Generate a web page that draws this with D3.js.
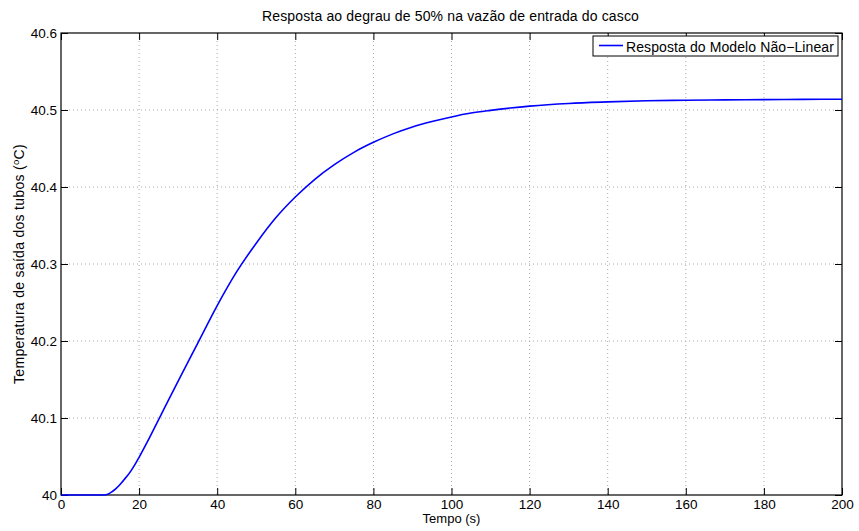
<!DOCTYPE html>
<html>
<head>
<meta charset="utf-8">
<script src="https://cdn.jsdelivr.net/npm/d3@7"></script>
<style>
  body { margin: 0; background: #fff; }
  svg text { font-family: "Liberation Sans", Arial, Helvetica, sans-serif; fill: #000; }
</style>
</head>
<body>
<div id="chart"></div>
<script>
// step response
var tempo = [0, 5, 10, 11, 12, 13, 14, 15, 16, 17, 18, 19, 20, 22, 25, 30, 35, 40, 45, 50, 55, 60, 65, 70,
  75, 80, 85, 90, 95, 100, 105, 110, 115, 120, 130, 140, 150, 160, 170, 180, 190, 200];
var temperatura = [40, 40, 40, 40, 40.001, 40.004, 40.008, 40.013, 40.019, 40.025, 40.032, 40.040, 40.049,
  40.068, 40.098, 40.148, 40.197, 40.246, 40.290, 40.327, 40.360, 40.387, 40.410, 40.429, 40.445, 40.458,
  40.469, 40.478, 40.485, 40.491, 40.496, 40.4995, 40.5025, 40.505, 40.5085, 40.5105, 40.512, 40.5127,
  40.5132, 40.5135, 40.5138, 40.514];
var xTicks = [0, 20, 40, 60, 80, 100, 120, 140, 160, 180, 200];
var yTicks = [40, 40.1, 40.2, 40.3, 40.4, 40.5, 40.6];

var W = 859, H = 531;
var margin = {left: 61, top: 33, right: 17, bottom: 36};
var w = W - margin.left - margin.right, h = H - margin.top - margin.bottom;

var svg = d3.select("#chart").append("svg").attr("width", W).attr("height", H);
var g = svg.append("g").attr("transform", "translate(" + margin.left + "," + margin.top + ")");

var x = d3.scaleLinear().domain([0, 200]).range([0, w]);
var y = d3.scaleLinear().domain([40, 40.6]).range([h, 0]);

// dotted grid
g.append("g").selectAll("line").data(xTicks.slice(1, -1)).enter().append("line")
  .attr("x1", function(d) { return x(d); }).attr("x2", function(d) { return x(d); })
  .attr("y1", 0).attr("y2", h)
  .attr("stroke", "#aaa").attr("stroke-width", 1).attr("stroke-dasharray", "1,3");
g.append("g").selectAll("line").data(yTicks.slice(1, -1)).enter().append("line")
  .attr("y1", function(d) { return y(d); }).attr("y2", function(d) { return y(d); })
  .attr("x1", 0).attr("x2", w)
  .attr("stroke", "#aaa").attr("stroke-width", 1).attr("stroke-dasharray", "1,3");

// axes, ticks inside like matlab
var fmtY = function(d) { return d3.format(".1f")(d).replace(/\.0$/, ""); };
var xAx = g.append("g").attr("transform", "translate(0," + h + ")")
  .call(d3.axisBottom(x).tickValues(xTicks).tickSizeInner(-7).tickSizeOuter(0).tickPadding(4));
var yAx = g.append("g")
  .call(d3.axisLeft(y).tickValues(yTicks).tickFormat(fmtY).tickSizeInner(-7).tickSizeOuter(0).tickPadding(4));
g.append("g").call(d3.axisTop(x).tickValues(xTicks).tickSizeInner(-7).tickSizeOuter(0).tickFormat(""));
g.append("g").attr("transform", "translate(" + w + ",0)")
  .call(d3.axisRight(y).tickValues(yTicks).tickSizeInner(-7).tickSizeOuter(0).tickFormat(""));
g.selectAll(".domain").remove();
g.selectAll(".tick line").attr("stroke", "#000");
g.selectAll(".tick text").attr("font-size", 13.5);
yAx.selectAll(".tick text").attr("dy", "0.35em");

g.append("rect").attr("width", w).attr("height", h)
  .attr("fill", "none").attr("stroke", "#000").attr("stroke-width", 1.2);

// curve
var pts = tempo.map(function(t, i) { return [t, temperatura[i]]; });
var line = d3.line()
  .x(function(d) { return x(d[0]); })
  .y(function(d) { return y(d[1]); })
  .curve(d3.curveMonotoneX);
g.append("path").datum(pts).attr("d", line)
  .attr("fill", "none").attr("stroke", "#0000ff").attr("stroke-width", 1.6);

// labels
svg.append("text").attr("x", 262).attr("y", 21).attr("text-anchor", "start")
  .attr("font-size", 14).attr("letter-spacing", 0.15)
  .text("Resposta ao degrau de 50% na vazão de entrada do casco");
svg.append("text").attr("x", margin.left + w / 2).attr("y", 523).attr("text-anchor", "middle")
  .attr("font-size", 13).text("Tempo (s)");
var yl = svg.append("text").attr("transform", "translate(24," + (margin.top + h / 2) + ") rotate(-90)")
  .attr("text-anchor", "middle").attr("font-size", 14).attr("letter-spacing", 0.3);
yl.append("tspan").text("Temperatura de saída dos tubos (");
yl.append("tspan").attr("font-size", 9.5).attr("dy", -5).text("o");
yl.append("tspan").attr("dy", 5).text("C)");

// legend
var lg = svg.append("g").attr("transform", "translate(593,36)");
lg.append("rect").attr("width", 245).attr("height", 20)
  .attr("fill", "#fff").attr("stroke", "#000").attr("stroke-width", 1);
lg.append("line").attr("x1", 6).attr("x2", 30).attr("y1", 9.5).attr("y2", 9.5)
  .attr("stroke", "#0000ff").attr("stroke-width", 1.6);
lg.append("text").attr("x", 33).attr("y", 16.3).attr("font-size", 14).attr("letter-spacing", 0.1)
  .text("Resposta do Modelo Não−Linear");
</script>
</body>
</html>
